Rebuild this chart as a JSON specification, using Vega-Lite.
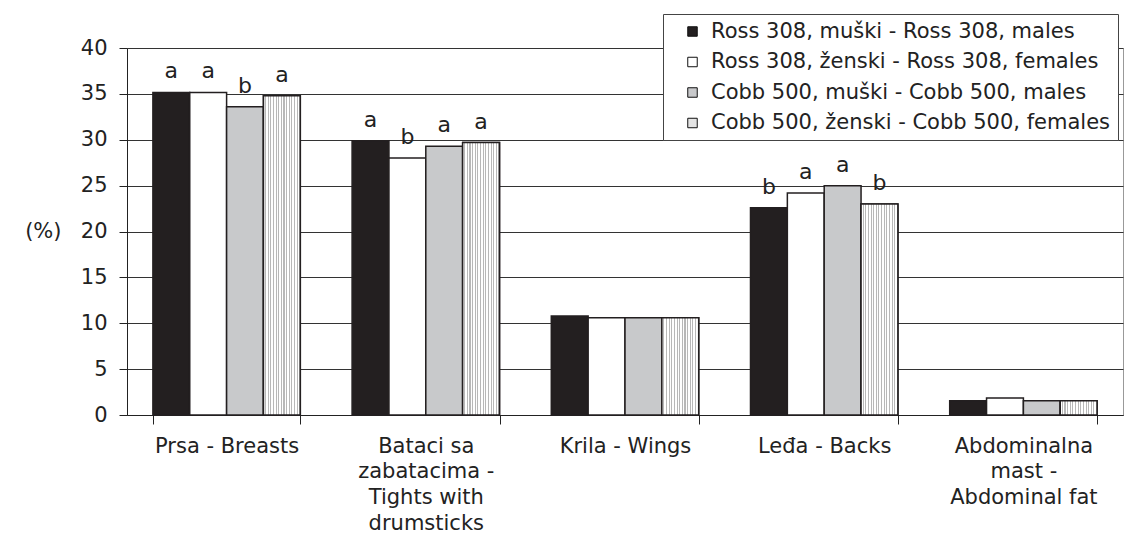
{
  "$schema": "https://vega.github.io/schema/vega-lite/v6.json",
  "autosize": {"type": "none"},
  "padding": {"left": 127, "top": 48, "right": 6, "bottom": 124},
  "width": 996,
  "height": 367,
  "background": "white",
  "config": {
    "view": {"stroke": "#999999", "strokeWidth": 1},
    "font": "DejaVu Sans"
  },
  "data": {
    "values": [
      {"part": "Prsa - Breasts", "group": "Ross 308, muški - Ross 308, males", "value": 35.15, "sig": "a"},
      {"part": "Prsa - Breasts", "group": "Ross 308, ženski - Ross 308, females", "value": 35.15, "sig": "a"},
      {"part": "Prsa - Breasts", "group": "Cobb 500, muški - Cobb 500, males", "value": 33.6, "sig": "b"},
      {"part": "Prsa - Breasts", "group": "Cobb 500, ženski - Cobb 500, females", "value": 34.8, "sig": "a"},
      {"part": "Bataci sa zabatacima - Tights with drumsticks", "group": "Ross 308, muški - Ross 308, males", "value": 29.9, "sig": "a"},
      {"part": "Bataci sa zabatacima - Tights with drumsticks", "group": "Ross 308, ženski - Ross 308, females", "value": 28.0, "sig": "b"},
      {"part": "Bataci sa zabatacima - Tights with drumsticks", "group": "Cobb 500, muški - Cobb 500, males", "value": 29.3, "sig": "a"},
      {"part": "Bataci sa zabatacima - Tights with drumsticks", "group": "Cobb 500, ženski - Cobb 500, females", "value": 29.7, "sig": "a"},
      {"part": "Krila - Wings", "group": "Ross 308, muški - Ross 308, males", "value": 10.8, "sig": ""},
      {"part": "Krila - Wings", "group": "Ross 308, ženski - Ross 308, females", "value": 10.6, "sig": ""},
      {"part": "Krila - Wings", "group": "Cobb 500, muški - Cobb 500, males", "value": 10.6, "sig": ""},
      {"part": "Krila - Wings", "group": "Cobb 500, ženski - Cobb 500, females", "value": 10.6, "sig": ""},
      {"part": "Leđa - Backs", "group": "Ross 308, muški - Ross 308, males", "value": 22.6, "sig": "b"},
      {"part": "Leđa - Backs", "group": "Ross 308, ženski - Ross 308, females", "value": 24.2, "sig": "a"},
      {"part": "Leđa - Backs", "group": "Cobb 500, muški - Cobb 500, males", "value": 25.0, "sig": "a"},
      {"part": "Leđa - Backs", "group": "Cobb 500, ženski - Cobb 500, females", "value": 23.0, "sig": "b"},
      {"part": "Abdominalna mast - Abdominal fat", "group": "Ross 308, muški - Ross 308, males", "value": 1.55, "sig": ""},
      {"part": "Abdominalna mast - Abdominal fat", "group": "Ross 308, ženski - Ross 308, females", "value": 1.85, "sig": ""},
      {"part": "Abdominalna mast - Abdominal fat", "group": "Cobb 500, muški - Cobb 500, males", "value": 1.55, "sig": ""},
      {"part": "Abdominalna mast - Abdominal fat", "group": "Cobb 500, ženski - Cobb 500, females", "value": 1.55, "sig": ""}
    ]
  },
  "encoding": {
    "x": {
      "field": "part",
      "type": "nominal",
      "sort": null,
      "scale": {"paddingInner": 0.26, "paddingOuter": 0.13},
      "axis": {
        "title": null,
        "labelAngle": 0,
        "tickBand": "extent",
        "tickSize": 9,
        "tickColor": "#222222",
        "domainColor": "#222222",
        "labelFont": "DejaVu Sans",
        "labelFontSize": 21,
        "labelColor": "#222222",
        "labelPadding": 11,
        "labelBaseline": "top",
        "labelLineHeight": 25.7,
        "labelLimit": 400,
        "labelExpr": "datum.label == 'Bataci sa zabatacima - Tights with drumsticks' ? ['Bataci sa', 'zabatacima -', 'Tights with', 'drumsticks'] : datum.label == 'Abdominalna mast - Abdominal fat' ? ['Abdominalna', 'mast -', 'Abdominal fat'] : datum.label"
      }
    },
    "xOffset": {
      "field": "group",
      "type": "nominal",
      "sort": null,
      "scale": {
        "domain": [
          "Ross 308, muški - Ross 308, males",
          "Ross 308, ženski - Ross 308, females",
          "Cobb 500, muški - Cobb 500, males",
          "Cobb 500, ženski - Cobb 500, females"
        ],
        "paddingInner": 0, "paddingOuter": 0
      }
    },
    "y": {
      "field": "value",
      "type": "quantitative",
      "scale": {"domain": [0, 40], "nice": false},
      "axis": {
        "values": [0, 5, 10, 15, 20, 25, 30, 35, 40],
        "grid": true,
        "gridColor": "#333333",
        "gridWidth": 1,
        "tickSize": 8,
        "tickColor": "#222222",
        "domainColor": "#222222",
        "labelFont": "DejaVu Sans",
        "labelFontSize": 21,
        "labelColor": "#222222",
        "labelPadding": 12,
        "title": "(%)",
        "titleAngle": 0,
        "titleX": -66,
        "titleY": 183.5,
        "titleAlign": "right",
        "titleBaseline": "middle",
        "titleFont": "DejaVu Sans",
        "titleFontSize": 21,
        "titleFontWeight": "normal",
        "titleColor": "#222222"
      }
    }
  },
  "layer": [
    {
      "mark": {"type": "bar", "stroke": "#231f20", "strokeWidth": 1.5},
      "encoding": {
        "fill": {
          "field": "group",
          "type": "nominal",
          "sort": null,
          "scale": {
            "domain": [
              "Ross 308, muški - Ross 308, males",
              "Ross 308, ženski - Ross 308, females",
              "Cobb 500, muški - Cobb 500, males",
              "Cobb 500, ženski - Cobb 500, females"
            ],
            "range": ["#231f20", "#ffffff", "#c8c9cb", "#e4e4e4"]
          },
          "legend": {
            "title": null,
            "orient": "none",
            "legendX": 536,
            "legendY": -34,
            "padding": 7,
            "strokeColor": "#444444",
            "fillColor": "#ffffff",
            "symbolType": "square",
            "symbolSize": 90,
            "symbolStrokeColor": "#111111",
            "symbolStrokeWidth": 1,
            "symbolOffset": 12,
            "labelOffset": 8,
            "labelFont": "DejaVu Sans",
            "labelFontSize": 21,
            "labelColor": "#222222",
            "labelLimit": 700,
            "rowPadding": 8.5
          }
        }
      }
    },
    {
      "transform": [{"filter": "datum.group == 'Cobb 500, ženski - Cobb 500, females'"}],
      "mark": {
        "type": "bar",
        "stroke": "#231f20",
        "strokeWidth": 1.5,
        "fill": {
          "gradient": "linear", "x1": 0, "y1": 0, "x2": 1, "y2": 0,
          "stops": [
            {"offset": 0, "color": "#ffffff"}, {"offset": 0.04286, "color": "#ffffff"}, {"offset": 0.04286, "color": "#b8b8b8"}, {"offset": 0.07143, "color": "#b8b8b8"},
            {"offset": 0.07143, "color": "#ffffff"}, {"offset": 0.11429, "color": "#ffffff"}, {"offset": 0.11429, "color": "#b8b8b8"}, {"offset": 0.14286, "color": "#b8b8b8"},
            {"offset": 0.14286, "color": "#ffffff"}, {"offset": 0.18571, "color": "#ffffff"}, {"offset": 0.18571, "color": "#b8b8b8"}, {"offset": 0.21429, "color": "#b8b8b8"},
            {"offset": 0.21429, "color": "#ffffff"}, {"offset": 0.25714, "color": "#ffffff"}, {"offset": 0.25714, "color": "#b8b8b8"}, {"offset": 0.28571, "color": "#b8b8b8"},
            {"offset": 0.28571, "color": "#ffffff"}, {"offset": 0.32857, "color": "#ffffff"}, {"offset": 0.32857, "color": "#b8b8b8"}, {"offset": 0.35714, "color": "#b8b8b8"},
            {"offset": 0.35714, "color": "#ffffff"}, {"offset": 0.4, "color": "#ffffff"}, {"offset": 0.4, "color": "#b8b8b8"}, {"offset": 0.42857, "color": "#b8b8b8"},
            {"offset": 0.42857, "color": "#ffffff"}, {"offset": 0.47143, "color": "#ffffff"}, {"offset": 0.47143, "color": "#b8b8b8"}, {"offset": 0.5, "color": "#b8b8b8"},
            {"offset": 0.5, "color": "#ffffff"}, {"offset": 0.54286, "color": "#ffffff"}, {"offset": 0.54286, "color": "#b8b8b8"}, {"offset": 0.57143, "color": "#b8b8b8"},
            {"offset": 0.57143, "color": "#ffffff"}, {"offset": 0.61429, "color": "#ffffff"}, {"offset": 0.61429, "color": "#b8b8b8"}, {"offset": 0.64286, "color": "#b8b8b8"},
            {"offset": 0.64286, "color": "#ffffff"}, {"offset": 0.68571, "color": "#ffffff"}, {"offset": 0.68571, "color": "#b8b8b8"}, {"offset": 0.71429, "color": "#b8b8b8"},
            {"offset": 0.71429, "color": "#ffffff"}, {"offset": 0.75714, "color": "#ffffff"}, {"offset": 0.75714, "color": "#b8b8b8"}, {"offset": 0.78571, "color": "#b8b8b8"},
            {"offset": 0.78571, "color": "#ffffff"}, {"offset": 0.82857, "color": "#ffffff"}, {"offset": 0.82857, "color": "#b8b8b8"}, {"offset": 0.85714, "color": "#b8b8b8"},
            {"offset": 0.85714, "color": "#ffffff"}, {"offset": 0.9, "color": "#ffffff"}, {"offset": 0.9, "color": "#b8b8b8"}, {"offset": 0.92857, "color": "#b8b8b8"},
            {"offset": 0.92857, "color": "#ffffff"}, {"offset": 0.97143, "color": "#ffffff"}, {"offset": 0.97143, "color": "#b8b8b8"}, {"offset": 1, "color": "#b8b8b8"}
          ]
        }
      },
      "encoding": {}
    },
    {
      "mark": {"type": "text", "baseline": "alphabetic", "align": "center", "dy": -14, "font": "DejaVu Sans", "fontSize": 22, "color": "#222222"},
      "encoding": {
        "text": {"field": "sig", "type": "nominal"}
      }
    }
  ]
}
